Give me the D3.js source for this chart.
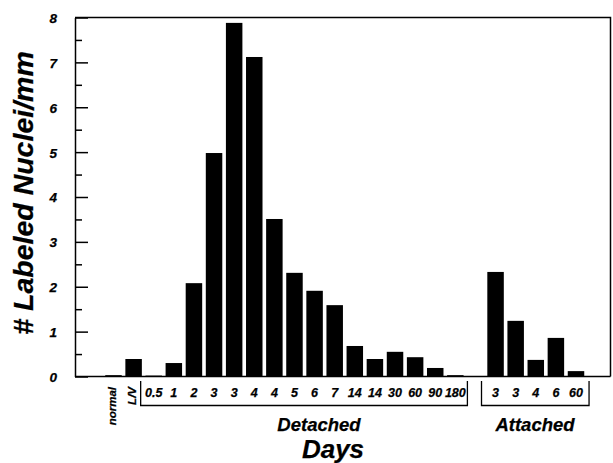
<!DOCTYPE html>
<html>
<head>
<meta charset="utf-8">
<script src="https://cdn.jsdelivr.net/npm/d3@7"></script>
<style>
  body { margin: 0; background: #fff; }
  text { font-family: "Liberation Sans", Arial, sans-serif; font-weight: bold; font-style: italic; fill: #000; stroke: #000; stroke-width: 0.25px; }
</style>
</head>
<body>
<div id="chart"></div>
<script>
(function () {
  'use strict';

  // detached series (incl. normal and L/V controls)
  var detachedLabels = ['normal', 'L/V', '0.5', '1', '2', '3', '3', '4', '4', '5', '6', '7', '14', '14', '30', '60', '90', '180'];
  var detachedValues = [0.03, 0.39, 0.02, 0.3, 2.08, 4.98, 7.88, 7.12, 3.51, 2.31, 1.91, 1.59, 0.68, 0.39, 0.55, 0.43, 0.19, 0.03];
  // attached series
  var attachedLabels = ['3', '3', '4', '6', '60'];
  var attachedValues = [2.33, 1.24, 0.37, 0.86, 0.12];
  var yTicks = [0, 1, 2, 3, 4, 5, 6, 7, 8];
  var yMinorTicks = [0.5, 1.5, 2.5, 3.5, 4.5, 5.5, 6.5, 7.5];

  var width = 613,
    height = 463;

  var rows = [];
  detachedLabels.forEach(function (l, i) {
    rows.push({ key: 'd' + i, label: l, value: detachedValues[i], group: 'detached' });
  });
  rows.push({ key: 'gap', label: '', value: null, group: 'gap' });
  attachedLabels.forEach(function (l, i) {
    rows.push({ key: 'a' + i, label: l, value: attachedValues[i], group: 'attached' });
  });

  var svg = d3.select('#chart').append('svg')
    .attr('width', width)
    .attr('height', height);

  var x = d3.scaleBand()
    .domain(rows.map(function (d) { return d.key; }))
    .range([103.45, 586.05])
    .paddingInner(0.18)
    .paddingOuter(0.09);

  var y = d3.scaleLinear()
    .domain([0, 8])
    .range([376.5, 17.5]);

  var left = 75, right = 610.5;

  // frame
  svg.append('path')
    .attr('d', 'M' + left + ',' + y(8) + 'H' + right + 'V' + y(0))
    .attr('fill', 'none')
    .attr('stroke', '#000')
    .attr('stroke-width', 1.5);

  // bars
  svg.append('g').selectAll('rect')
    .data(rows.filter(function (d) { return d.value !== null; }))
    .enter()
    .append('rect')
    .attr('x', function (d) { return x(d.key); })
    .attr('width', x.bandwidth())
    .attr('y', function (d) { return y(d.value); })
    .attr('height', function (d) { return y(0) - y(d.value); })
    .attr('fill', '#000');

  // y axis, ticks pointing inward
  var yAxis = svg.append('g')
    .attr('transform', 'translate(' + left + ',0)')
    .call(d3.axisLeft(y).tickValues(yTicks).tickSizeInner(-13).tickSizeOuter(0).tickPadding(18).tickFormat(d3.format('d')));
  yAxis.select('.domain').attr('stroke-width', 1.5);
  yAxis.selectAll('.tick line').attr('stroke-width', 1.5);
  yAxis.selectAll('text')
    .attr('font-size', 13.5)
    .attr('font-family', null)
    .attr('dy', '0.36em');

  var yMinor = svg.append('g')
    .attr('transform', 'translate(' + left + ',0)')
    .call(d3.axisLeft(y).tickValues(yMinorTicks).tickSizeInner(-7).tickSizeOuter(0).tickFormat(''));
  yMinor.select('.domain').remove();
  yMinor.selectAll('.tick line').attr('stroke-width', 1.5);

  // baseline
  svg.append('line')
    .attr('x1', left).attr('x2', right)
    .attr('y1', y(0)).attr('y2', y(0))
    .attr('stroke', '#000')
    .attr('stroke-width', 1.5);

  // x labels
  var lab = svg.append('g');
  rows.forEach(function (d) {
    if (!d.label) return;
    var cx = x(d.key) + x.bandwidth() / 2;
    if (d.label === 'normal' || d.label === 'L/V') {
      lab.append('text')
        .attr('transform', 'translate(' + (cx + 2) + ',387) rotate(-90)')
        .attr('text-anchor', 'end')
        .attr('font-size', 11.5)
        .text(d.label);
    } else {
      lab.append('text')
        .attr('x', cx)
        .attr('y', 397)
        .attr('text-anchor', 'middle')
        .attr('font-size', 12.5)
        .text(d.label);
    }
  });

  // group brackets
  var bracketTop = 381, bracketBottom = 405.5;
  function bracket(firstKey, lastKey, dl, dr) {
    var x0 = x(firstKey) - x.step() * x.paddingInner() / 2 + dl;
    var x1 = x(lastKey) + x.bandwidth() + x.step() * x.paddingInner() / 2 + dr;
    svg.append('path')
      .attr('d', 'M' + x0 + ',' + bracketTop + 'V' + bracketBottom + 'H' + x1 + 'V' + bracketTop)
      .attr('fill', 'none')
      .attr('stroke', '#000')
      .attr('stroke-width', 1.3);
  }
  bracket('d2', 'd17', -3, 2);
  bracket('a0', 'a4', -4, 3);

  svg.append('text')
    .attr('x', 319).attr('y', 431)
    .attr('text-anchor', 'middle')
    .attr('font-size', 18.5)
    .text('Detached');

  svg.append('text')
    .attr('x', 535).attr('y', 431)
    .attr('text-anchor', 'middle')
    .attr('font-size', 18.5)
    .text('Attached');

  svg.append('text')
    .attr('x', 333).attr('y', 458)
    .attr('text-anchor', 'middle')
    .attr('font-size', 26)
    .text('Days');

  svg.append('text')
    .attr('transform', 'translate(33,193) rotate(-90)')
    .attr('text-anchor', 'middle')
    .attr('font-size', 28.5)
    .text('# Labeled Nuclei/mm');
})();
</script>
</body>
</html>
